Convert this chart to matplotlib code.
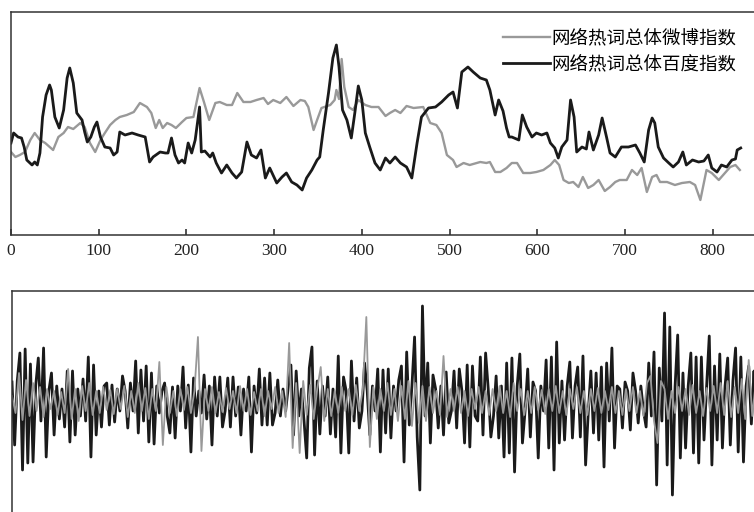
"""Weibo / Baidu hot-word index: smoothed trend and high-frequency part."""
import numpy as np
import matplotlib
matplotlib.use("Agg")
import matplotlib.pyplot as plt

plt.rcParams['font.family'] = ['Liberation Serif', 'Noto Sans CJK SC', 'DejaVu Sans']

weibo_label = '网络热词总体微博指数'
baidu_label = '网络热词总体百度指数'
x_ticks = [0, 100, 200, 300, 400, 500, 600, 700, 800]

# top panel, trend component (day, index value)
weibo_day = [0, 5, 10, 16, 22, 27, 33, 39, 48, 54, 60, 65, 71, 79, 84, 90, 96,
             102, 107, 113, 119, 124, 132, 140, 147, 155, 160, 165, 169, 173,
             178, 183, 188, 195, 200, 208, 215, 220, 226, 233, 238, 246, 252,
             258, 265, 273, 280, 288, 293, 299, 307, 314, 322, 330, 335, 339,
             345, 349, 354, 364, 369, 371, 374, 377, 380, 385, 390, 396, 404,
             411, 419, 427, 432, 438, 444, 451, 459, 470, 478, 485, 491, 497,
             504, 508, 516, 523, 535, 542, 546, 552, 558, 565, 571, 577, 584,
             592, 599, 607, 615, 620, 625, 630, 636, 641, 647, 652, 658, 664,
             670, 677, 683, 689, 694, 702, 708, 714, 719, 725, 731, 736, 740,
             748, 757, 765, 774, 780, 786, 793, 799, 807, 812, 820, 826, 831]
weibo_trend = [83, 78, 80, 83, 95, 102, 95, 92, 85, 98, 102, 108, 106, 112, 108,
               92, 83, 95, 102, 110, 115, 118, 120, 123, 132, 128, 122, 107,
               115, 107, 112, 110, 107, 113, 117, 118, 147, 133, 115, 132, 133,
               130, 130, 142, 133, 133, 135, 137, 131, 135, 132, 138, 129, 135,
               134, 128, 105, 115, 127, 130, 135, 145, 136, 176, 148, 128, 125,
               135, 130, 128, 128, 119, 122, 125, 122, 129, 127, 128, 112, 110,
               102, 80, 75, 68, 72, 70, 73, 72, 73, 63, 63, 67, 72, 72, 62, 62,
               63, 65, 70, 75, 70, 55, 52, 53, 48, 58, 47, 50, 55, 44, 48, 53,
               55, 55, 65, 60, 67, 43, 58, 60, 53, 53, 50, 52, 53, 50, 35, 65,
               62, 55, 60, 68, 70, 65]

baidu_day = [0, 3, 8, 12, 15, 18, 24, 27, 30, 33, 36, 40, 44, 46, 50, 55, 60,
             64, 67, 71, 75, 81, 84, 87, 91, 95, 98, 102, 107, 113, 117, 121,
             124, 130, 138, 145, 153, 158, 162, 170, 176, 179, 183, 187, 191,
             195, 198, 202, 206, 210, 215, 217, 221, 227, 230, 234, 240, 246,
             252, 257, 263, 269, 274, 280, 285, 290, 295, 303, 309, 314, 320,
             326, 332, 337, 343, 349, 352, 356, 362, 367, 371, 374, 378, 383,
             388, 392, 396, 400, 404, 409, 415, 421, 427, 432, 438, 444, 451,
             457, 463, 468, 476, 484, 491, 499, 504, 509, 514, 521, 527, 535,
             542, 546, 552, 556, 561, 565, 568, 571, 579, 583, 588, 594, 599,
             605, 611, 615, 620, 624, 628, 634, 638, 642, 645, 651, 656, 659,
             664, 670, 674, 679, 683, 689, 696, 704, 712, 717, 722, 727, 731,
             734, 738, 744, 750, 755, 761, 766, 770, 777, 784, 790, 795, 799,
             805, 810, 816, 822, 826, 828, 832]
baidu_trend = [92, 102, 98, 97, 88, 75, 70, 73, 70, 82, 118, 140, 150, 145, 118,
               107, 125, 157, 167, 152, 122, 115, 103, 93, 98, 108, 113, 98, 88,
               87, 80, 83, 103, 100, 102, 100, 98, 73, 78, 83, 82, 82, 97, 80,
               72, 75, 72, 92, 82, 95, 128, 83, 84, 78, 82, 72, 62, 70, 62, 57,
               63, 93, 80, 77, 85, 57, 67, 52, 58, 62, 53, 50, 45, 57, 65, 75,
               78, 105, 142, 177, 190, 168, 125, 115, 97, 122, 149, 135, 102,
               88, 72, 65, 77, 72, 78, 72, 68, 57, 92, 118, 127, 128, 133, 140,
               143, 127, 163, 168, 163, 157, 155, 145, 120, 135, 124, 107, 98,
               98, 95, 120, 108, 98, 102, 100, 102, 92, 87, 77, 88, 95, 135,
               118, 83, 88, 86, 103, 85, 100, 117, 98, 82, 78, 88, 88, 90, 82,
               73, 105, 117, 112, 88, 77, 72, 68, 73, 83, 70, 75, 73, 74, 80,
               67, 63, 70, 68, 75, 76, 85, 87]

# bottom panel, high-frequency component (black every 3 days, grey every 4)
baidu_detail = [19, -44, 20, 48, -69, 52, -62, 37, -61, 15, 43, -20, 53, -56,
                10, 28, -34, 15, -18, 12, -26, 30, -41, 30, -34, 12, -15, 22,
                -20, 44, -56, 36, -34, 10, -26, 15, 18, -24, 16, -21, 12, -10,
                25, 10, -27, 18, -10, 40, -32, 31, -20, 35, -41, 28, -43, 15,
                -12, 10, 18, -15, -32, 14, -37, 15, -10, 34, -27, 16, -51, 23,
                -15, 10, -12, 26, -18, 15, -44, 24, -15, 24, -26, -10, 23, -26,
                24, -15, 14, -34, 12, -10, 24, -51, 15, -12, 32, -24, 23, -24,
                28, -24, -12, 21, -15, 12, -10, 14, 36, -34, 30, -15, 12, -20,
                -57, 33, 54, -54, 20, -33, 15, -15, 24, -33, 12, -36, 45, -52,
                24, 10, -52, 40, -20, 23, -27, -10, 38, 10, -34, 15, -10, 32,
                -51, 31, -32, 32, -37, 15, -10, 21, 35, -61, 49, -24, 15, 64,
                -36, -89, 95, -15, 38, -42, 26, 12, -27, 15, -34, 29, -22, -10,
                30, -27, 32, 10, -42, 36, -46, 35, -15, -20, 44, -34, 48, 12,
                -36, -15, 25, -37, 15, -56, 38, -52, 43, -71, 15, 47, -42, -10,
                32, -36, 19, 10, -57, 15, -10, 41, -47, 44, -69, 59, -42, 20,
                -39, 15, 39, -37, 15, 34, -36, 45, -64, -12, 30, -32, 28, -39,
                34, -66, 38, -20, 53, -47, 15, 12, -27, 19, 10, -29, 28, 10,
                -22, 15, -10, -26, 38, -15, 49, -84, 33, -20, 88, -64, 74, -94,
                14, 66, -57, 28, -47, 15, 48, -52, 44, -62, 44, -39, 15, 65,
                -64, 35, -39, 47, -47, 15, 43, -44, 20, 53, -51, 44, -61, 15,
                35, -23, 30, -45]
weibo_detail = [5, -12, 28, -19, 21, -15, 18, -10, 14, -16, 12, -8, 10, -14, 9,
                -12, 32, -18, 12, -20, 15, -10, 18, -14, 10, -12, 14, -9, 11,
                -13, 12, -8, 15, -16, 10, -12, 18, -10, 13, -18, 12, -10, 39,
                -44, 14, -12, 10, -15, 12, -9, 14, -12, 10, 64, -50, 12, -10,
                14, -12, 9, -11, 13, -8, 10, -12, 15, -10, 12, -14, 9, -10, 12,
                -15, 10, -8, 14, -12, 10, -16, 58, -47, 18, -52, 20, -14, 16,
                -18, 12, 34, -20, 12, -15, 10, -12, 14, -10, 12, -14, 16, -10,
                12, 84, -46, 14, -18, 12, -10, 18, -14, 12, -20, 15, -18, 20,
                -25, 18, -22, 15, -20, 14, -12, 10, -14, 45, -16, 12, -10, 14,
                -12, 10, -15, 12, -8, 14, -12, 10, -14, 12, -10, 15, -12, 10,
                -16, 18, -10, 12, -14, 10, -12, 14, -9, 11, -13, 12, -10, 15,
                -12, 10, -14, 12, -8, 14, -12, 10, -14, 12, -10, 13, -12, 10,
                -9, 14, -12, 10, -14, 12, -10, 14, -12, 10, -15, 18, 25, -20,
                -42, 20, 12, -18, 10, -12, 14, -10, 12, -14, 16, -12, 10, -15,
                13, -10, 15, -12, 18, -14, 20, -16, 14, -12, 22, -18, 41, -15,
                18]

BLACK = '#1a1a1a'
GREY = '#999999'
SPINE = '#333333'


def style_axes(ax):
    """Thin dark frame, no y ticks."""
    for side in ('top', 'bottom', 'left', 'right'):
        ax.spines[side].set_color(SPINE)
        ax.spines[side].set_linewidth(1.1)
    ax.set_yticks([])
    ax.set_xlim(0, 850)


fig = plt.figure(figsize=(7.54, 5.12), dpi=100)

# top axes: left edge at x=11px, right spine runs just off the canvas
ax_top = fig.add_axes([11 / 754, (512 - 235) / 512, 745.5 / 754, 223 / 512])
ax_top.plot(weibo_day, weibo_trend, color=GREY, lw=1.7, label=weibo_label)
ax_top.plot(baidu_day, baidu_trend, color=BLACK, lw=2.0, label=baidu_label)
style_axes(ax_top)
ax_top.set_ylim(0, 223)
ax_top.set_xticks(x_ticks)
ax_top.tick_params(axis='x', direction='in', length=4, width=1.1,
                   labelsize=12.5, pad=6, colors='#222222')
ax_top.legend(loc='upper right', bbox_to_anchor=(0.983, 0.955), frameon=False,
              fontsize=13.3, handlelength=2.5, handletextpad=0.1,
              labelspacing=0.45, borderaxespad=0.0)

# bottom axes: same width, lower edge sits below the canvas
ax_bot = fig.add_axes([12 / 754, (512 - 515) / 512, 745.5 / 754, 224 / 512])
ax_bot.plot(np.arange(len(baidu_detail)) * 3, baidu_detail,
            color=BLACK, lw=2.0)
ax_bot.plot(np.arange(len(weibo_detail)) * 4, weibo_detail,
            color=GREY, lw=1.3)
style_axes(ax_bot)
ax_bot.set_ylim(-114, 110)
ax_bot.set_xticks([])

fig.savefig('out.png', dpi=100)
